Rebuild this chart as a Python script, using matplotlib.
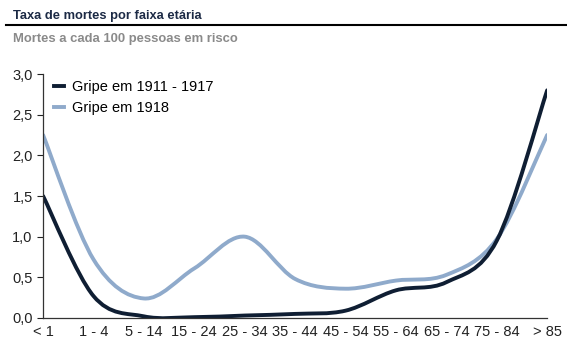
import numpy as np
import matplotlib.pyplot as plt
from matplotlib.path import Path
from matplotlib.patches import PathPatch
from matplotlib.lines import Line2D

plt.rcParams['font.family'] = ['Liberation Sans', 'DejaVu Sans']

# faixas etárias e taxas (mortes a cada 100 pessoas em risco)
faixas = ['< 1', '1 - 4', '5 - 14', '15 - 24', '25 - 34', '35 - 44',
          '45 - 54', '55 - 64', '65 - 74', '75 - 84', '> 85']
gripe_1911_1917 = [1.50, 0.27, 0.02, 0.01, 0.03, 0.05, 0.09, 0.34, 0.44, 0.95, 2.80]
gripe_1918 = [2.25, 0.72, 0.24, 0.61, 1.00, 0.48, 0.36, 0.46, 0.53, 0.97, 2.25]

cor_escura = '#0f1e33'
cor_clara = '#8faacb'


def curva_suave(ax, xs, ys, cor):
    # linha suavizada tipo Excel (Bezier Catmull-Rom)
    xs = np.asarray(xs, float)
    ys = np.asarray(ys, float)
    n = len(xs)
    verts = [(xs[0], ys[0])]
    codes = [Path.MOVETO]
    for i in range(n - 1):
        x0, y0 = (xs[i - 1], ys[i - 1]) if i > 0 else (xs[i], ys[i])
        x3, y3 = (xs[i + 2], ys[i + 2]) if i + 2 < n else (xs[i + 1], ys[i + 1])
        x1, y1 = xs[i], ys[i]
        x2, y2 = xs[i + 1], ys[i + 1]
        c1 = (x1 + (x2 - x0) / 6, y1 + (y2 - y0) / 6)
        c2 = (x2 - (x3 - x1) / 6, y2 - (y3 - y1) / 6)
        verts += [c1, c2, (x2, y2)]
        codes += [Path.CURVE4] * 3
    ax.add_patch(PathPatch(Path(verts, codes), facecolor='none',
                           edgecolor=cor, lw=2.8, capstyle='round'))


fig = plt.figure(figsize=(5.67, 3.46), dpi=100)
ax = fig.add_axes([0.076, 0.081, 0.889, 0.705])

x = np.arange(len(faixas))
curva_suave(ax, x, gripe_1918, cor_clara)
curva_suave(ax, x, gripe_1911_1917, cor_escura)

ax.set_xlim(0, len(faixas) - 1)
ax.set_ylim(0, 3.0)
ax.set_xticks(x)
ax.set_xticklabels(faixas)
ax.set_yticks(np.arange(0, 3.01, 0.5))
ax.set_yticklabels([f'{v:.1f}'.replace('.', ',') for v in np.arange(0, 3.01, 0.5)])
ax.tick_params(axis='x', length=0, pad=5, labelsize=10.5, colors='#222222')
ax.tick_params(axis='y', length=4, width=0.8, labelsize=10.5, colors='#222222')
for s in ['top', 'right']:
    ax.spines[s].set_visible(False)
for s in ['left', 'bottom']:
    ax.spines[s].set_color('#333333')
    ax.spines[s].set_linewidth(0.9)

handles = [Line2D([], [], color=cor_escura, lw=2.8),
           Line2D([], [], color=cor_clara, lw=2.8)]
ax.legend(handles, ['Gripe em 1911 - 1917', 'Gripe em 1918'], loc='upper left',
          bbox_to_anchor=(-0.005, 1.03), frameon=False, fontsize=10.5,
          handlelength=0.7, handletextpad=0.55, labelspacing=0.5)

fig.text(0.023, 0.955, 'Taxa de mortes por faixa etária', fontsize=9.3,
         fontweight='bold', color='#1c2a45', va='center')
fig.add_artist(Line2D([0.01, 1.0], [0.928, 0.928], color='black', lw=1.5))
fig.text(0.023, 0.888, 'Mortes a cada 100 pessoas em risco', fontsize=9.4,
         fontweight='bold', color='#8a8a8a', va='center')

fig.savefig('out.png', dpi=100)
